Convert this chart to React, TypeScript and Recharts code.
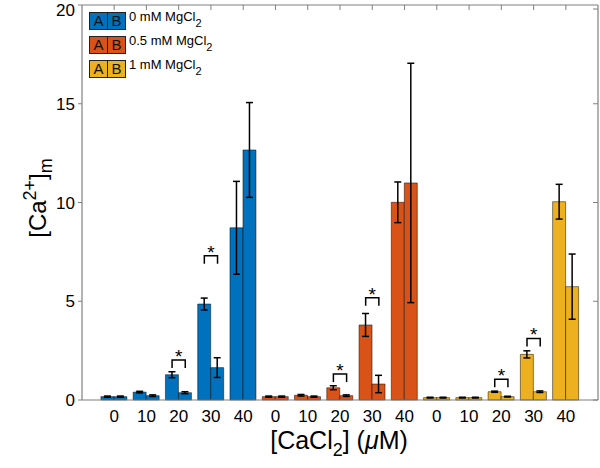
import React from 'react';
import { ComposedChart, Bar, XAxis, YAxis, ErrorBar, Cell, Scatter } from 'recharts';

const tickLabels = ['0', '10', '20', '30', '40', '0', '10', '20', '30', '40', '0', '10', '20', '30', '40'];
const groupNames = ['0 mM MgCl', '0.5 mM MgCl', '1 mM MgCl'];
const groupColors = ['#0072BD', '#D95319', '#EDB120'];
const valuesA = [0.17, 0.40, 1.28, 4.86, 8.72, 0.17, 0.24, 0.62, 3.80, 10.01, 0.12, 0.12, 0.42, 2.31, 10.04];
const valuesB = [0.17, 0.22, 0.37, 1.64, 12.66, 0.17, 0.17, 0.22, 0.81, 10.99, 0.12, 0.12, 0.17, 0.42, 5.74];
const errorsA = [0.03, 0.04, 0.15, 0.30, 2.35, 0.03, 0.04, 0.10, 0.58, 1.03, 0.02, 0.02, 0.03, 0.18, 0.88];
const errorsB = [0.03, 0.04, 0.05, 0.50, 2.40, 0.03, 0.03, 0.04, 0.44, 6.06, 0.02, 0.02, 0.02, 0.04, 1.65];
const sigLevels: (number | null)[] = [null, null, 2.03, 7.3, null, null, null, 1.32, 5.18, null, null, null, 1.05, 3.12, null];
const yTicks = [0, 5, 10, 15, 20];

const data = tickLabels.map((lab, i) => ({
  idx: i,
  a: valuesA[i],
  b: valuesB[i],
  ea: errorsA[i],
  eb: errorsB[i],
  sig: sigLevels[i],
}));

const FONT = '"Liberation Sans", Arial, Helvetica, sans-serif';
const AXIS_GRAY = '#808080';
const INNER_TICK = 5;

const TopTick = (props: any) => {
  const { x, y } = props;
  if (x == null || y == null) return <g />;
  return <line x1={x} x2={x} y1={y} y2={y + INNER_TICK} stroke={AXIS_GRAY} strokeWidth={1} />;
};

const RightTick = (props: any) => {
  const { x, y } = props;
  if (x == null || y == null) return <g />;
  return <line x1={x - INNER_TICK} x2={x} y1={y} y2={y} stroke={AXIS_GRAY} strokeWidth={1} />;
};

const Bracket = (props: any) => {
  const { cx, cy, payload } = props;
  if (payload == null || payload.sig == null || cx == null || cy == null) return <g />;
  const half = 6.6;
  const leg = 8;
  return (
    <g>
      <path d={`M${cx - half},${cy + leg} L${cx - half},${cy} L${cx + half},${cy} L${cx + half},${cy + leg}`} fill="none" stroke="#000" strokeWidth={1.5} />
      <text x={cx} y={cy + 3} textAnchor="middle" fontSize={19} fontFamily={FONT} fill="#000">*</text>
    </g>
  );
};

const LegendBox = () => (
  <div style={{ position: 'absolute', left: 89, top: 12, fontFamily: FONT }}>
    {groupNames.map((name, g) => (
      <div key={g} style={{ display: 'flex', alignItems: 'center', height: 18, marginBottom: g < 2 ? 6 : 0 }}>
        <div style={{ display: 'flex', border: '1px solid #222', height: 16, background: groupColors[g] }}>
          {['A', 'B'].map((l, k) => (
            <div key={l} style={{ width: 17, height: 16, lineHeight: '16px', textAlign: 'center', fontSize: 15, color: '#111', borderLeft: k === 1 ? '1px solid #222' : 'none' }}>{l}</div>
          ))}
        </div>
        <div style={{ marginLeft: 3, fontSize: 13, color: '#000', whiteSpace: 'nowrap', position: 'relative', top: -3 }}>
          {name}<sub style={{ fontSize: 11, position: 'relative', top: 2 }}>2</sub>
        </div>
      </div>
    ))}
  </div>
);

export default function App() {
  return (
    <div style={{ position: 'absolute', left: 0, top: 0, width: 600, height: 468, background: '#fff' }}>
      <ComposedChart
        width={600}
        height={468}
        data={data}
        margin={{ top: 5, right: 2, left: 0, bottom: 0 }}
        barCategoryGap="9%"
        barGap={0}
      >
        <XAxis
          xAxisId="bottom"
          dataKey="idx"
          type="category"
          orientation="bottom"
          height={68}
          padding={{ left: 16, right: 16 }}
          interval={0}
          tickLine={false}
          tickMargin={4}
          axisLine={{ stroke: AXIS_GRAY, strokeWidth: 1.2 }}
          tick={{ fontSize: 17, fill: '#000', fontFamily: FONT }}
          tickFormatter={(v: any) => tickLabels[v]}
        />
        <XAxis
          xAxisId="top"
          dataKey="idx"
          type="category"
          orientation="top"
          mirror
          padding={{ left: 16, right: 16 }}
          interval={0}
          tick={<TopTick />}
          tickLine={false}
          tickSize={0}
          tickMargin={0}
          axisLine={{ stroke: AXIS_GRAY, strokeWidth: 1.2 }}
        />
        <YAxis
          yAxisId="left"
          domain={[0, 20]}
          ticks={yTicks}
          width={82}
          tickSize={4}
          tickMargin={3}
          tickLine={{ stroke: AXIS_GRAY }}
          axisLine={{ stroke: AXIS_GRAY, strokeWidth: 1.2 }}
          tick={{ fontSize: 17, fill: '#000', fontFamily: FONT }}
        />
        <YAxis
          yAxisId="right"
          orientation="right"
          mirror
          domain={[0, 20]}
          ticks={yTicks}
          tick={<RightTick />}
          tickLine={false}
          tickSize={0}
          tickMargin={0}
          axisLine={{ stroke: AXIS_GRAY, strokeWidth: 1.2 }}
        />
        <Bar dataKey="a" xAxisId="bottom" yAxisId="left" isAnimationActive={false} stroke="#000" strokeOpacity={0.6} strokeWidth={0.8}>
          {data.map((d, i) => <Cell key={i} fill={groupColors[Math.floor(i / 5)]} />)}
          <ErrorBar dataKey="ea" width={3.5} stroke="#000" strokeWidth={1.5} direction="y" />
        </Bar>
        <Bar dataKey="b" xAxisId="bottom" yAxisId="left" isAnimationActive={false} stroke="#000" strokeOpacity={0.6} strokeWidth={0.8}>
          {data.map((d, i) => <Cell key={i} fill={groupColors[Math.floor(i / 5)]} />)}
          <ErrorBar dataKey="eb" width={3.5} stroke="#000" strokeWidth={1.5} direction="y" />
        </Bar>
        <Scatter dataKey="sig" xAxisId="top" yAxisId="right" isAnimationActive={false} shape={Bracket} />
      </ComposedChart>
      <LegendBox />
      <svg width={600} height={468} style={{ position: 'absolute', left: 0, top: 0, pointerEvents: 'none' }}>
        <text x={339} y={449} textAnchor="middle" fontSize={25} fontFamily={FONT} fill="#000">
          [CaCl<tspan fontSize={18} dy={7}>2</tspan><tspan dy={-7}>] (</tspan><tspan fontStyle="italic">μ</tspan>M)
        </text>
        <text transform="translate(46,198) rotate(-90)" textAnchor="middle" fontSize={24} fontFamily={FONT} fill="#000">
          [Ca<tspan fontSize={18} dy={-10}>2+</tspan><tspan dy={10}>]</tspan><tspan fontSize={18} dy={6}>m</tspan>
        </text>
      </svg>
    </div>
  );
}
